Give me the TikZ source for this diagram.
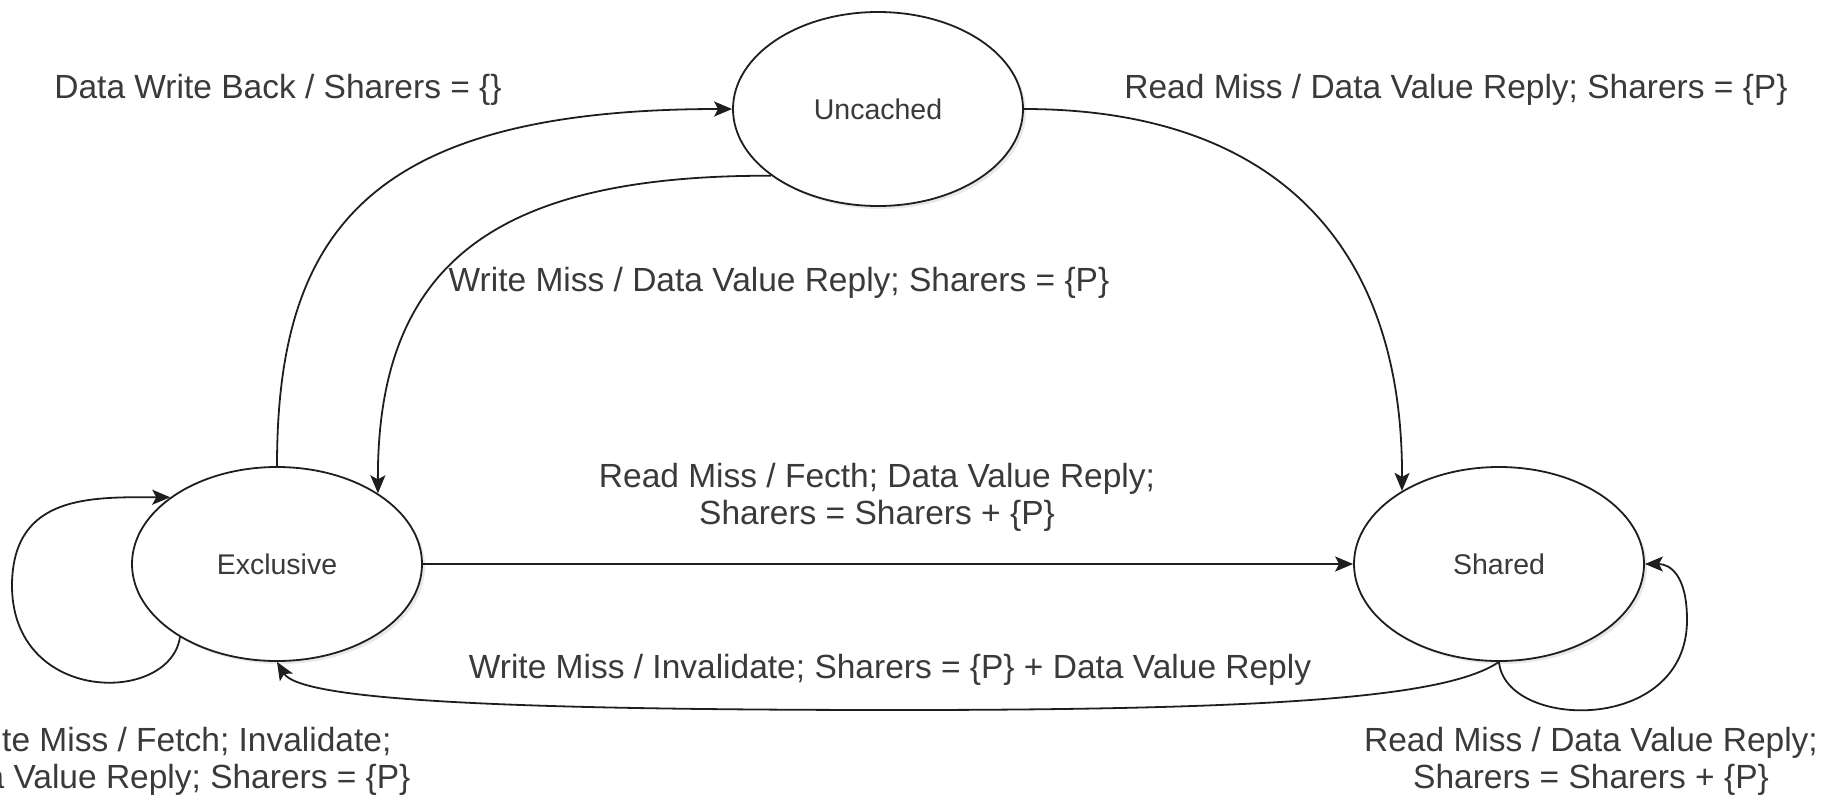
\documentclass[tikz,border=0pt]{standalone}
\usepackage{fontspec}
\setmainfont{Liberation Sans}
\usetikzlibrary{shapes.geometric,arrows.meta,shadows}
\definecolor{txt}{HTML}{3A3A3A}
\definecolor{ln}{HTML}{1E1E1E}
\begin{document}
\begin{tikzpicture}[x=1pt,y=-1pt,
  state/.style={ellipse,draw=ln,line width=1.8pt,fill=white,minimum width=290pt,minimum height=194pt,inner sep=0pt,
    text=txt,font=\fontsize{28.5}{32}\selectfont,
    drop shadow={opacity=0.18,shadow xshift=3pt,shadow yshift=-3pt}},
  lbl/.style={text=txt,font=\fontsize{33.5}{37}\selectfont,align=center,inner sep=0pt},
  edge/.style={draw=ln,line width=1.8pt,-{Stealth[length=18pt,width=15pt,inset=4pt]}},
  loopedge/.style={draw=ln,line width=1.8pt}
]
\useasboundingbox (0,0) rectangle (1837,801);
\clip (0,0) rectangle (1837,801);

\node[state] (U) at (878,109) {Uncached};
\node[state] (E) at (277,564) {Exclusive};
\node[state] (S) at (1499,564) {Shared};

% labels
\node[lbl] (l1) at (278,90) {Data Write Back / Sharers = \{\}};
\node[lbl] (l2) at (1456,90) {Read Miss / Data Value Reply; Sharers = \{P\}};
\node[lbl] (l3) at (779,283) {Write Miss / Data Value Reply; Sharers = \{P\}};
\node[lbl] (l4) at (877,497) {Read Miss / Fecth; Data Value Reply;\\Sharers = Sharers + \{P\}};
\node[lbl] (l5) at (890,670) {Write Miss / Invalidate; Sharers = \{P\} + Data Value Reply};
\node[lbl] (l6) at (172,761) {Write Miss / Fetch; Invalidate;\\Data Value Reply; Sharers = \{P\}};
\node[lbl] (l7) at (1591,761) {Read Miss / Data Value Reply;\\Sharers = Sharers + \{P\}};

% edges
\path[edge] (E.north) .. controls (277,230) and (370,109) .. (U.west);
\path[edge] (U.212) .. controls (500,175) and (377,260) .. (E.35);
\path[edge] (U.east) .. controls (1270,109) and (1403,240) .. (S.143);
\path[edge] (E.east) -- (S.west);
\path[edge] (S.south) .. controls (1450,695) and (1300,710) .. (900,710)
   .. controls (500,710) and (300,700) .. (E.south);
\path[edge] (E.217) .. controls (170,705) and (10,705) .. (12,583)
   .. controls (14,495) and (90,497) .. (E.148);
\path[edge] (S.south) .. controls (1505,730) and (1687,735) .. (1687,620)
   .. controls (1687,575) and (1670,564) .. (S.east);
\end{tikzpicture}
\end{document}
